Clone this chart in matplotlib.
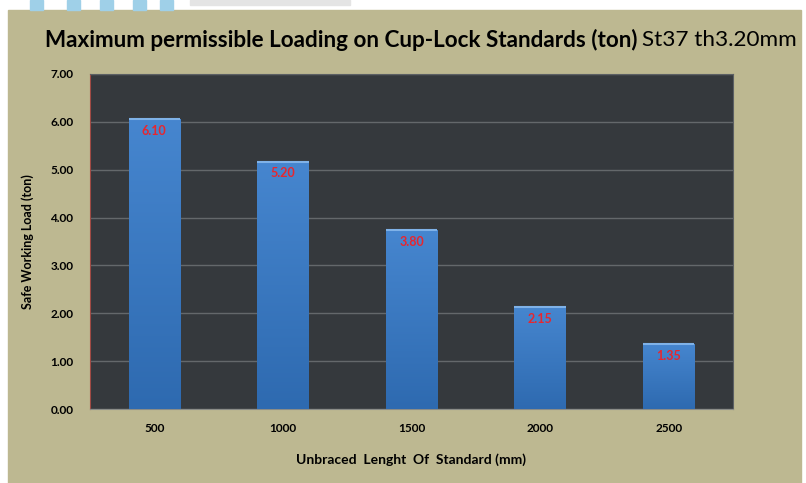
import matplotlib.pyplot as plt
import matplotlib.patches as mpatches
import numpy as np

# data
lengths = ['500', '1000', '1500', '2000', '2500']
bar_heights = [6.05, 5.17, 3.73, 2.13, 1.36]
value_labels = ['6.10', '5.20', '3.80', '2.15', '1.35']
y_ticks = [0, 1, 2, 3, 4, 5, 6, 7]

plt.rcParams['font.family'] = ['Lato', 'DejaVu Sans']

fig = plt.figure(figsize=(8.06, 4.83), dpi=100)
fig.patch.set_facecolor('white')

# khaki panel behind the chart
fig.patches.append(mpatches.Rectangle((8 / 806, 0), 793 / 806, 473 / 483,
                                      transform=fig.transFigure, color='#bdb891', zorder=-5))
# little blue stripes at top left
for x0 in [30, 67, 100, 133, 160]:
    fig.patches.append(mpatches.Rectangle((x0 / 806, 473 / 483), 13 / 806, 10 / 483,
                                          transform=fig.transFigure, color='#9fd0e8', zorder=-5))
fig.patches.append(mpatches.Rectangle((190 / 806, 478 / 483), 160 / 806, 5 / 483,
                                      transform=fig.transFigure, color='#e4e4e4', zorder=-5))

ax = fig.add_axes([90 / 806, 74 / 483, 643 / 806, 335 / 483])
ax.set_facecolor('#35393d')

x = np.arange(len(lengths))
bars = ax.bar(x, bar_heights, width=0.4, color='#3a7bc6', zorder=3)

# vertical gradient on every bar
grad = np.linspace(0, 1, 256).reshape(-1, 1)
cmap = plt.matplotlib.colors.LinearSegmentedColormap.from_list('b', ['#2e6ab0', '#4686cf'])
for b in bars:
    im = ax.imshow(grad, extent=[b.get_x(), b.get_x() + b.get_width(), 0, b.get_height()],
                   origin='lower', aspect='auto', cmap=cmap, zorder=4)
    im.set_clip_path(b)
    ax.plot([b.get_x(), b.get_x() + b.get_width()], [b.get_height()] * 2,
            color='#7fb2e8', lw=1.5, zorder=5, solid_capstyle='butt')

for xi, h, lab in zip(x, bar_heights, value_labels):
    ax.text(xi, h - 0.12, lab, ha='center', va='top', color='#e8262e',
            fontsize=9, fontweight='bold', zorder=6)

ax.set_xlim(-0.5, 4.5)
ax.set_ylim(0, 7)
ax.set_yticks(y_ticks)
ax.set_yticklabels([f'{v:.2f}' for v in y_ticks], fontsize=8.5, fontweight='bold')
ax.set_xticks(x)
ax.set_xticklabels(lengths, fontsize=8.5, fontweight='bold')
ax.tick_params(length=0, pad=10)
ax.tick_params(axis='y', pad=12)
ax.grid(axis='y', color='#64686b', lw=1, zorder=1)
ax.set_axisbelow(True)

for s in ['top', 'right']:
    ax.spines[s].set_color('#5c6064')
ax.spines['left'].set_color('#a04a44')
ax.spines['bottom'].set_color('#8a8c88')

ax.set_ylabel('Safe Working Load (ton)', fontsize=9, fontweight='bold', labelpad=12)
ax.set_xlabel('Unbraced  Lenght  Of  Standard (mm)', fontsize=10, fontweight='bold', labelpad=14)

fig.text(45 / 806, 1 - 40 / 483, 'Maximum permissible Loading on Cup-Lock Standards (ton)',
         fontsize=16.2, fontweight='bold', va='center', ha='left')
t = fig.texts[-1]
fig.canvas.draw()
bb = t.get_window_extent()
fig.text(bb.x1 / 806 + 5 / 806, 1 - 40 / 483, 'St37 th3.20mm', fontsize=16.2, va='center', ha='left')

fig.savefig('out.png', dpi=100)
